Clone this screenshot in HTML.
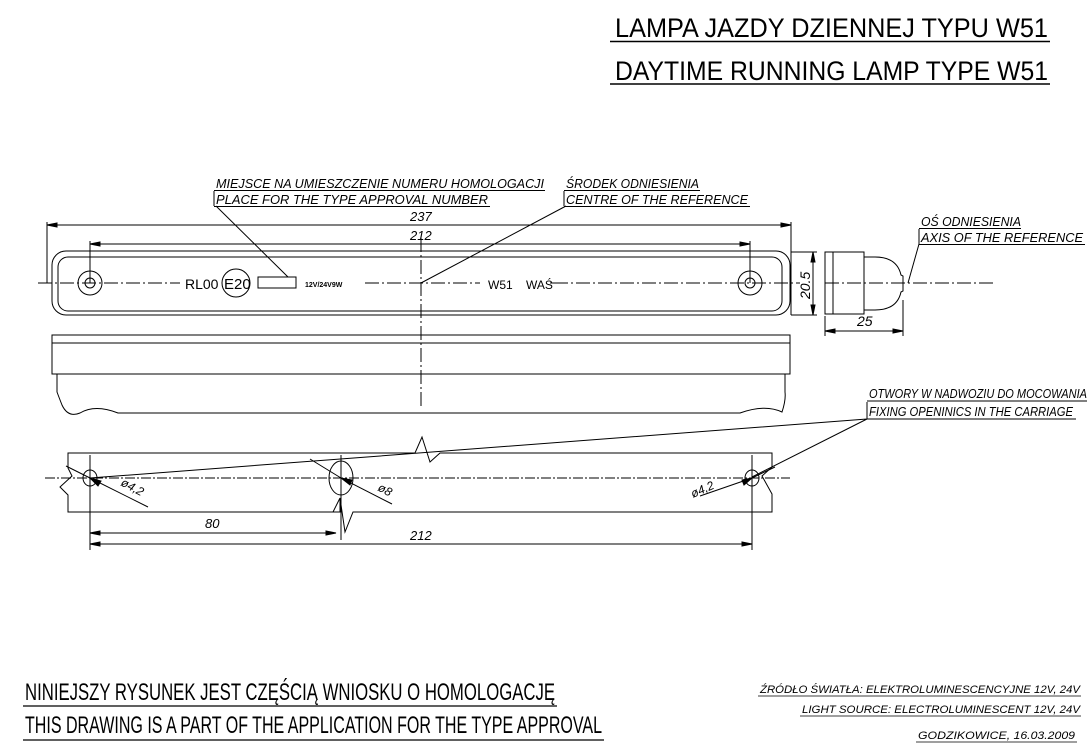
<!DOCTYPE html>
<html><head><meta charset="utf-8"><style>
html,body{margin:0;padding:0;background:#fff}
svg{display:block}
text{font-family:"Liberation Sans",sans-serif;fill:#000}
.i{font-style:italic}
</style></head><body>
<svg width="1091" height="749" viewBox="0 0 1091 749" xmlns="http://www.w3.org/2000/svg" fill="none" stroke="#000" stroke-width="1">
<g stroke="none">
<text x="615" y="37" font-size="27" textLength="433" lengthAdjust="spacingAndGlyphs">LAMPA JAZDY DZIENNEJ TYPU W51</text>
<text x="615" y="80" font-size="27" textLength="433" lengthAdjust="spacingAndGlyphs">DAYTIME RUNNING LAMP TYPE W51</text>
</g>
<line x1="610" y1="41.5" x2="1050" y2="41.5" stroke-width="1.5"/>
<line x1="610" y1="84" x2="1050" y2="84" stroke-width="1.5"/>

<g stroke="none" font-size="12.5">
<text class="i" x="216" y="188" textLength="328" lengthAdjust="spacingAndGlyphs">MIEJSCE NA UMIESZCZENIE NUMERU HOMOLOGACJI</text>
<text class="i" x="216" y="204" textLength="272" lengthAdjust="spacingAndGlyphs">PLACE FOR THE TYPE APPROVAL NUMBER</text>
<text class="i" x="566" y="188" textLength="133" lengthAdjust="spacingAndGlyphs">ŚRODEK ODNIESIENIA</text>
<text class="i" x="566" y="204" textLength="182" lengthAdjust="spacingAndGlyphs">CENTRE OF THE REFERENCE</text>
<text class="i" x="921" y="226" textLength="100" lengthAdjust="spacingAndGlyphs">OŚ ODNIESIENIA</text>
<text class="i" x="921" y="242" textLength="162" lengthAdjust="spacingAndGlyphs">AXIS OF THE REFERENCE</text>
<text class="i" x="869" y="398" textLength="218" lengthAdjust="spacingAndGlyphs">OTWORY W NADWOZIU DO MOCOWANIA</text>
<text class="i" x="869" y="416" textLength="204" lengthAdjust="spacingAndGlyphs">FIXING OPENINICS IN THE CARRIAGE</text>
</g>
<path d="M214 190.5H545M214 206.5H490M214 191V206M216 206L288 277"/>
<path d="M564 190.5H700M564 206.5H750M564 191V206M566 206L421 283"/>
<path d="M919 228.5H1021M919 244.5H1085M919 229V244M919 244L908 283"/>
<path d="M867 401H1087M867 419H1076M867 402V419M867 419L90 478M867 419L752 477"/>

<path d="M47 222V283M791 222V315M90 241V283M750 241V283"/>
<path d="M47 225H791M90 244H750"/>
<path d="M47 225l10 -2v4zM791 225l-10 -2v4zM90 244l10 -2v4zM750 244l-10 -2v4z" fill="#000"/>
<g stroke="none"><text class="i" x="410" y="221" font-size="13">237</text><text class="i" x="410" y="240" font-size="13">212</text></g>

<rect x="52" y="251" width="738" height="64" rx="14"/>
<rect x="58" y="257" width="724" height="54" rx="10"/>
<line x1="38" y1="283" x2="180" y2="283" stroke-dasharray="14 3 2 3"/>
<line x1="365" y1="283" x2="480" y2="283" stroke-dasharray="14 3 2 3"/>
<line x1="554" y1="283" x2="800" y2="283" stroke-dasharray="14 3 2 3"/>
<line x1="825" y1="283" x2="995" y2="283" stroke-dasharray="14 3 2 3"/>
<line x1="421" y1="238" x2="421" y2="408" stroke-dasharray="14 3 2 3"/>
<circle cx="90" cy="283" r="12"/><circle cx="90" cy="283" r="5"/>
<circle cx="750" cy="283" r="12"/><circle cx="750" cy="283" r="5"/>
<circle cx="236" cy="283" r="14"/>
<rect x="258" y="277" width="38" height="11"/>
<g stroke="none">
<text x="185" y="289" font-size="14">RL00</text>
<text x="224" y="289" font-size="15">E20</text>
<text x="305" y="287" font-size="7" font-weight="bold">12V/24V9W</text>
<text x="488" y="289" font-size="12">W51</text>
<text x="526" y="289" font-size="12">WAŚ</text>
</g>
<line x1="550" y1="283" x2="560" y2="283"/>
<path d="M791 252H817M791 315H817M813 252V315"/>
<path d="M813 252l-2 10h4zM813 315l-2 -10h4z" fill="#000"/>
<text class="i" stroke="none" font-size="14" transform="translate(810 299) rotate(-90)">20.5</text>

<path d="M825 252H864V314H825ZM833 252V314"/>
<path d="M864 257H875Q897 257 901 275L903 276V291L901 292Q897 310 875 310H864"/>
<path d="M825 316V336M903 300V336M825 331H903"/>
<path d="M825 331l10 -2v4zM903 331l-10 -2v4z" fill="#000"/>
<text class="i" stroke="none" x="857" y="326" font-size="14">25</text>

<path d="M52 335H790V374H52ZM52 343H790"/>
<path d="M57 374V392Q60 400 62 405Q68 418 80 413Q95 404 118 413H740Q765 404 782 412Q786 400 785 392V374"/>

<path d="M68 453H415L422 437L430 462L440 453H772V467L762 476L772 494V512H353L345 532L340 498V512H68V495L60 487L72 476L68 468Z"/>
<path d="M340 498L333 512"/>
<line x1="45" y1="478" x2="790" y2="478" stroke-dasharray="10 2 2 2"/>
<ellipse cx="90" cy="478" rx="7" ry="8"/>
<ellipse cx="341" cy="478" rx="12" ry="17"/>
<ellipse cx="752" cy="478" rx="7" ry="8"/>
<path d="M90 455V550M341 455V540M752 455V550"/>
<path d="M66 466L90 478L148 507M310 459L341 478L392 504M700 496L752 478L775 467"/>
<path d="M90 478l8 8l3 -5zM341 478l9 7l2 -5zM752 478l-10 2l2 5z" fill="#000"/>
<g stroke="none" font-size="12">
<text class="i" transform="translate(120 485) rotate(28)">ø4,2</text>
<text class="i" transform="translate(377 490) rotate(28)">ø8</text>
<text class="i" transform="translate(693 498) rotate(-24)">ø4,2</text>
</g>
<path d="M90 533H336M90 544H752"/>
<path d="M90 533l10 -2v4zM336 533l-10 -2v4zM90 544l10 -2v4zM752 544l-10 -2v4z" fill="#000"/>
<g stroke="none"><text class="i" x="205" y="528" font-size="13">80</text><text class="i" x="410" y="540" font-size="13">212</text></g>

<g stroke="none">
<text x="25" y="700" font-size="24" textLength="530" lengthAdjust="spacingAndGlyphs">NINIEJSZY RYSUNEK JEST CZĘŚCIĄ WNIOSKU O HOMOLOGACJĘ</text>
<text x="25" y="733" font-size="24" textLength="577" lengthAdjust="spacingAndGlyphs">THIS DRAWING IS A PART OF THE APPLICATION FOR THE TYPE APPROVAL</text>
<text class="i" x="760" y="693" font-size="11" textLength="320" lengthAdjust="spacingAndGlyphs">ŹRÓDŁO ŚWIATŁA: ELEKTROLUMINESCENCYJNE 12V, 24V</text>
<text class="i" x="802" y="713" font-size="11" textLength="278" lengthAdjust="spacingAndGlyphs">LIGHT SOURCE: ELECTROLUMINESCENT 12V, 24V</text>
<text class="i" x="918" y="739" font-size="11" textLength="157" lengthAdjust="spacingAndGlyphs">GODZIKOWICE, 16.03.2009</text>
</g>
<path d="M23 706H557M23 740H604" stroke-width="1.3"/>
<path d="M758 696H1081M800 716H1081M916 742H1077" stroke-width="0.8"/>
</svg>
</body></html>
